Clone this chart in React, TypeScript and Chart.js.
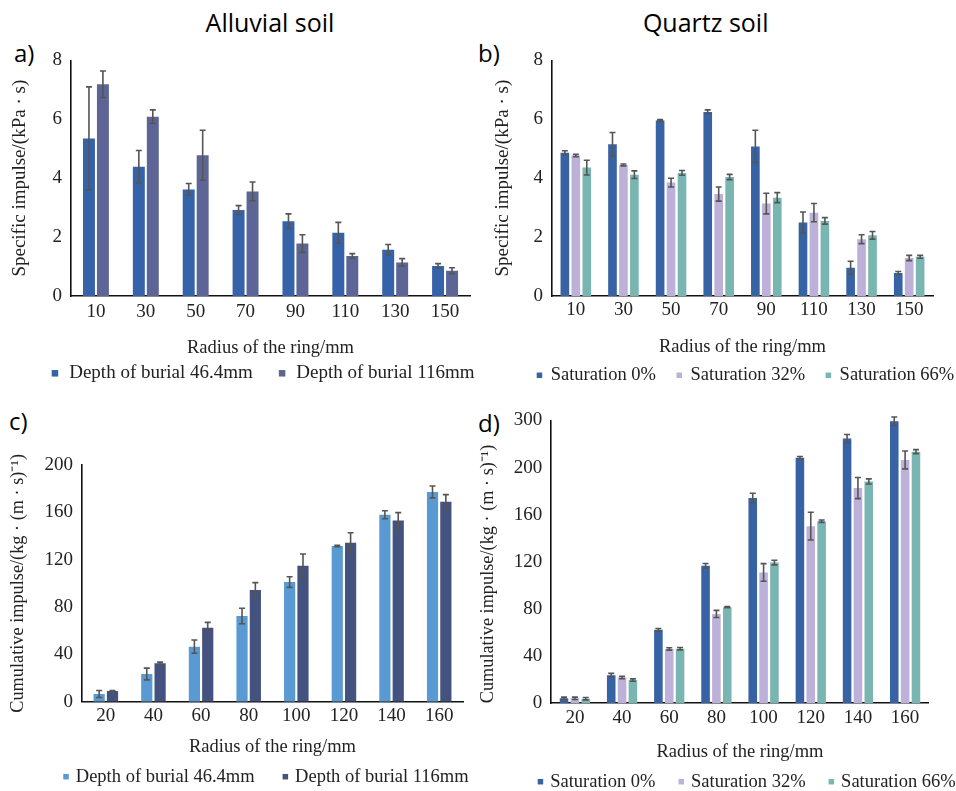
import React, { useEffect, useRef } from 'react';
import { Chart, registerables } from 'chart.js';

Chart.register(...registerables);

const FONT = '"Liberation Serif", "Times New Roman", serif';
Chart.defaults.font.family = FONT;
Chart.defaults.color = '#222';

// ---------- categories ----------
const radiiAB = ['10', '30', '50', '70', '90', '110', '130', '150'];
const radiiCD = ['20', '40', '60', '80', '100', '120', '140', '160'];

// ---------- panel a : Alluvial soil, specific impulse ----------
const aDepth46 = [5.35, 4.39, 3.62, 2.92, 2.54, 2.15, 1.57, 1.02];
const aDepth46Err = [1.75, 0.55, 0.2, 0.15, 0.25, 0.35, 0.18, 0.08];
const aDepth116 = [7.19, 6.09, 4.78, 3.55, 1.78, 1.36, 1.14, 0.86];
const aDepth116Err = [0.45, 0.23, 0.85, 0.32, 0.3, 0.08, 0.13, 0.1];

// ---------- panel b : Quartz soil, specific impulse ----------
const bSat0 = [4.86, 5.15, 5.96, 6.25, 5.08, 2.5, 0.96, 0.78];
const bSat0Err = [0.07, 0.4, 0.03, 0.07, 0.55, 0.35, 0.22, 0.05];
const bSat32 = [4.77, 4.45, 3.85, 3.46, 3.14, 2.83, 1.93, 1.29];
const bSat32Err = [0.04, 0.03, 0.15, 0.24, 0.35, 0.31, 0.15, 0.09];
const bSat66 = [4.36, 4.12, 4.18, 4.04, 3.34, 2.55, 2.06, 1.33];
const bSat66Err = [0.25, 0.13, 0.08, 0.09, 0.17, 0.11, 0.13, 0.05];

// ---------- panel c : Alluvial soil, cumulative impulse ----------
const cDepth46 = [6.5, 23.4, 46.5, 72.4, 101.1, 131.5, 158, 177.2];
const cDepth46Err = [3, 5, 5.6, 6.5, 4.5, 0.6, 3.4, 5];
const cDepth116 = [9, 32.4, 62.5, 94.4, 114.9, 134.4, 153, 169];
const cDepth116Err = [0.5, 1, 4.5, 6.2, 9.9, 8.4, 6.8, 6];

// ---------- panel d : Quartz soil, cumulative impulse ----------
const dSat0 = [4.2, 23.9, 62.4, 116.6, 174.2, 208.4, 224.7, 239.3];
const dSat0Err = [1, 1.5, 1, 2, 4, 1, 3.4, 3.6];
const dSat32 = [4.2, 21.9, 46.1, 75.8, 111, 150.3, 182.6, 206.5];
const dSat32Err = [1, 1, 1, 3, 7.5, 11.8, 9, 7.6];
const dSat66 = [3.9, 19.7, 46.3, 81.5, 119.4, 154.5, 188.2, 213.5];
const dSat66Err = [1, 1, 1, 0.5, 2, 1, 2.2, 1.7];
const dTickLabels = ['0', '40', '80', '120', '160', '200', '300'];

const xTitle = 'Radius of the ring/mm';
const yTitleSpecific = 'Specific impulse/(kPa · s)';
const yTitleCumulative = 'Cumulative impulse/(kg · (m · s)⁻¹)';

const errorBarPlugin = {
  id: 'errorBars',
  afterDatasetsDraw(chart: any) {
    const ctx = chart.ctx;
    const ys = chart.scales.y;
    chart.data.datasets.forEach((ds: any, i: number) => {
      const meta = chart.getDatasetMeta(i);
      meta.data.forEach((bar: any, j: number) => {
        const v = ds.data[j];
        const e = ds.errors[j];
        const top = ys.getPixelForValue(v + e);
        const bot = ys.getPixelForValue(Math.max(0, v - e));
        ctx.save();
        ctx.strokeStyle = '#555';
        ctx.lineWidth = 1.6;
        ctx.beginPath();
        ctx.moveTo(bar.x, top);
        ctx.lineTo(bar.x, bot);
        ctx.moveTo(bar.x - 3, top);
        ctx.lineTo(bar.x + 3, top);
        ctx.moveTo(bar.x - 3, bot);
        ctx.lineTo(bar.x + 3, bot);
        ctx.stroke();
        ctx.restore();
      });
    });
  },
};

interface LegendSpec { x: number; y: number; font: number; box: number; textOffset: number; gap: number; }

function makeLegendPlugin(lg: LegendSpec, x0: number, y0: number) {
  return {
    id: 'boxLegend',
    afterDraw(chart: any) {
      const ctx = chart.ctx;
      ctx.save();
      ctx.font = `${lg.font}px ${FONT}`;
      ctx.textBaseline = 'middle';
      ctx.textAlign = 'left';
      let x = lg.x - x0;
      const cy = lg.y - y0;
      chart.data.datasets.forEach((ds: any) => {
        const w = ctx.measureText(ds.label).width;
        ctx.fillStyle = ds.backgroundColor;
        ctx.fillRect(x, cy - lg.box / 2, lg.box, lg.box);
        ctx.fillStyle = '#222';
        ctx.fillText(ds.label, x + lg.textOffset, cy);
        x += lg.textOffset + w + lg.gap;
      });
      ctx.restore();
    },
  };
}

interface PanelSpec {
  x0: number; y0: number; W: number; H: number;
  plotLeft: number; plotRight: number; plotTop: number; plotBottom: number;
  yTitleX: number; yTitleFont: number; yTitleAlign: string;
  xTickY: number; xTitleY: number;
  legend: LegendSpec;
  yMax: number; yStep: number; yTitle: string; yLabels?: string[];
  labels: string[];
  cp: number; bp: number;
  datasets: { label: string; data: number[]; errors: number[]; color: string }[];
}

function makeConfig(p: PanelSpec): any {
  const tickFont = 19, xTitleFont = 18.5, yTitleFont = p.yTitleFont;
  const lhT = tickFont * 1.2, lhX = xTitleFont * 1.2, lhY = yTitleFont * 1.2;
  const padTop = p.plotTop - p.y0;
  const yAxisW = p.plotLeft - p.x0;
  const padRight = p.x0 + p.W - p.plotRight;
  const xTitlePadBottom = 2;
  const xAxisH = p.xTitleY + lhX / 2 + xTitlePadBottom - p.plotBottom;
  const padBottom = p.H - (p.plotBottom - p.y0) - xAxisH;
  const yTitlePadTop = p.yTitleX - p.x0 - lhY / 2;
  const xTickPad = p.xTickY - p.plotBottom - lhT / 2;
  return {
    type: 'bar',
    data: {
      labels: p.labels,
      datasets: p.datasets.map((d) => ({
        label: d.label,
        data: d.data,
        errors: d.errors,
        backgroundColor: d.color,
        borderWidth: 0,
        categoryPercentage: p.cp,
        barPercentage: p.bp,
      })),
    },
    options: {
      responsive: false,
      maintainAspectRatio: false,
      animation: false,
      events: [],
      layout: {
        autoPadding: false,
        padding: { top: padTop, left: 0, right: padRight, bottom: padBottom },
      },
      plugins: {
        legend: { display: false },
        tooltip: { enabled: false },
        title: { display: false },
      },
      scales: {
        x: {
          grid: { display: false, drawTicks: false },
          border: { display: true, color: '#111', width: 1.6 },
          ticks: {
            padding: xTickPad,
            font: { size: tickFont, family: FONT },
            color: '#222',
            maxRotation: 0,
            autoSkip: false,
          },
          title: {
            display: true,
            text: xTitle,
            font: { size: xTitleFont, family: FONT },
            color: '#222',
            padding: { top: 0, bottom: xTitlePadBottom },
          },
          afterFit: (s: any) => { s.height = xAxisH; },
        },
        y: {
          min: 0,
          max: p.yMax,
          grid: { display: false, drawTicks: false },
          border: { display: true, color: '#111', width: 1.6 },
          ticks: {
            stepSize: p.yStep,
            padding: 9,
            font: { size: tickFont, family: FONT },
            color: '#222',
            callback: (v: any, i: number) => (p.yLabels ? p.yLabels[i] : String(v)),
          },
          title: {
            display: true,
            text: p.yTitle,
            align: p.yTitleAlign,
            font: { size: yTitleFont, family: FONT },
            color: '#222',
            padding: { top: yTitlePadTop, bottom: 0 },
          },
          afterFit: (s: any) => { s.width = yAxisW; },
        },
      },
    },
    plugins: [errorBarPlugin, makeLegendPlugin(p.legend, p.x0, p.y0)],
  };
}

const panels: PanelSpec[] = [
  {
    x0: 0, y0: 40, W: 478, H: 348,
    plotLeft: 71, plotRight: 470, plotTop: 53.3, plotBottom: 296,
    yTitleX: 20, yTitleFont: 19, yTitleAlign: 'center', xTickY: 311.7, xTitleY: 348,
    legend: { x: 51.7, y: 373.3, font: 19, box: 6.5, textOffset: 17.5, gap: 26 },
    yMax: 8, yStep: 2, yTitle: yTitleSpecific, labels: radiiAB, cp: 0.56, bp: 0.857,
    datasets: [
      { label: 'Depth of burial 46.4mm', data: aDepth46, errors: aDepth46Err, color: '#3562A8' },
      { label: 'Depth of burial 116mm', data: aDepth116, errors: aDepth116Err, color: '#5D6597' },
    ],
  },
  {
    x0: 470, y0: 40, W: 486, H: 350,
    plotLeft: 552, plotRight: 933, plotTop: 53.3, plotBottom: 296,
    yTitleX: 502.7, yTitleFont: 19, yTitleAlign: 'center', xTickY: 310, xTitleY: 346.7,
    legend: { x: 536.7, y: 375.3, font: 18.5, box: 5.5, textOffset: 14, gap: 20.5 },
    yMax: 8, yStep: 2, yTitle: yTitleSpecific, labels: radiiAB, cp: 0.69, bp: 0.79,
    datasets: [
      { label: 'Saturation 0%', data: bSat0, errors: bSat0Err, color: '#3763A5' },
      { label: 'Saturation 32%', data: bSat32, errors: bSat32Err, color: '#BDB0D9' },
      { label: 'Saturation 66%', data: bSat66, errors: bSat66Err, color: '#79B6B2' },
    ],
  },
  {
    x0: 0, y0: 440, W: 490, H: 351,
    plotLeft: 82, plotRight: 463, plotTop: 465, plotBottom: 701.7,
    yTitleX: 18.3, yTitleFont: 18.3, yTitleAlign: 'center', xTickY: 716, xTitleY: 747.3,
    legend: { x: 63.3, y: 776.7, font: 18.5, box: 5.5, textOffset: 12.5, gap: 28 },
    yMax: 200, yStep: 40, yTitle: yTitleCumulative, labels: radiiCD, cp: 0.56, bp: 0.84,
    datasets: [
      { label: 'Depth of burial 46.4mm', data: cDepth46, errors: cDepth46Err, color: '#5A9AD2' },
      { label: 'Depth of burial 116mm', data: cDepth116, errors: cDepth116Err, color: '#43527E' },
    ],
  },
  {
    x0: 470, y0: 400, W: 486, H: 391,
    plotLeft: 551.3, plotRight: 928.7, plotTop: 418.5, plotBottom: 703.3,
    yTitleX: 487.7, yTitleFont: 18.3, yTitleAlign: 'start', xTickY: 718.3, xTitleY: 751.7,
    legend: { x: 537.7, y: 781.7, font: 18.5, box: 5.5, textOffset: 12.5, gap: 23 },
    yMax: 240, yStep: 40, yTitle: yTitleCumulative, yLabels: dTickLabels,
    labels: radiiCD, cp: 0.69, bp: 0.79,
    datasets: [
      { label: 'Saturation 0%', data: dSat0, errors: dSat0Err, color: '#3763A5' },
      { label: 'Saturation 32%', data: dSat32, errors: dSat32Err, color: '#BDB0D9' },
      { label: 'Saturation 66%', data: dSat66, errors: dSat66Err, color: '#79B6B2' },
    ],
  },
];

const sans = '"Open Sans", "Noto Sans", sans-serif';

const textStyle = (left: number, top: number, size: number, extra: any = {}): React.CSSProperties => ({
  position: 'absolute',
  left,
  top,
  font: `${size}px ${sans}`,
  lineHeight: `${size}px`,
  color: '#000',
  whiteSpace: 'nowrap',
  ...extra,
});

export default function App() {
  const refs = [
    useRef<HTMLCanvasElement>(null),
    useRef<HTMLCanvasElement>(null),
    useRef<HTMLCanvasElement>(null),
    useRef<HTMLCanvasElement>(null),
  ];

  useEffect(() => {
    const charts = panels.map((p, i) => new Chart(refs[i].current as HTMLCanvasElement, makeConfig(p)));
    return () => charts.forEach((c) => c.destroy());
  }, []);

  return (
    <div style={{ position: 'absolute', left: 0, top: 0, width: 956, height: 791, background: '#fff', overflow: 'hidden' }}>
      <div style={textStyle(170, 9.5, 25, { width: 200, textAlign: 'center' })}>Alluvial soil</div>
      <div style={textStyle(605.7, 9.5, 25, { width: 200, textAlign: 'center' })}>Quartz soil</div>
      <div style={textStyle(14, 41, 24)}>a)</div>
      <div style={textStyle(478, 41, 24)}>b)</div>
      <div style={textStyle(9, 409, 24)}>c)</div>
      <div style={textStyle(478, 411, 24)}>d)</div>
      {panels.map((p, i) => (
        <canvas
          key={i}
          ref={refs[i]}
          width={p.W}
          height={p.H}
          style={{ position: 'absolute', left: p.x0, top: p.y0, width: p.W, height: p.H }}
        />
      ))}
    </div>
  );
}
